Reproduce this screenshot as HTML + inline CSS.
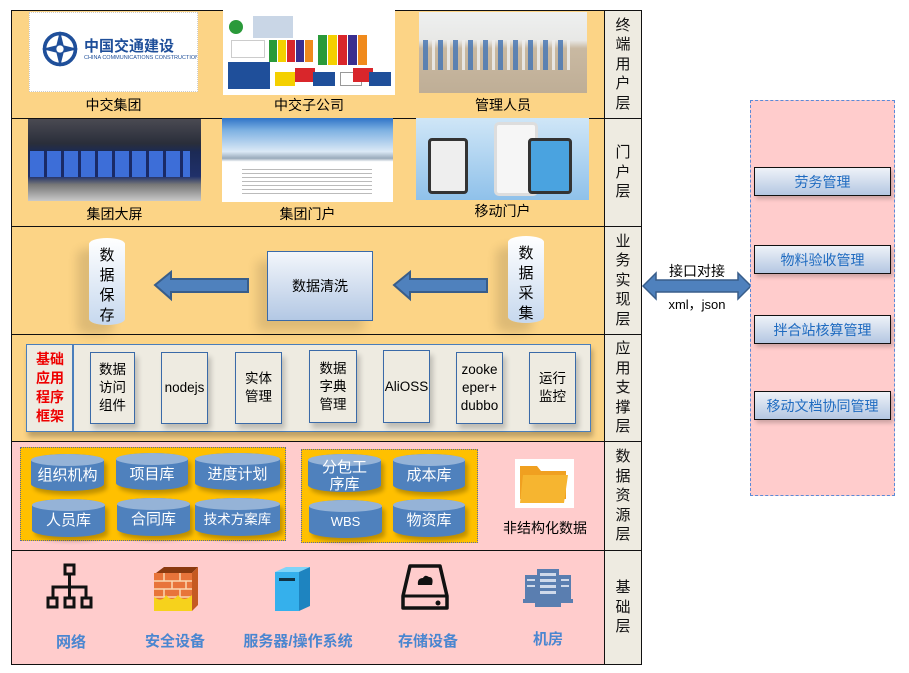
<!DOCTYPE html>
<html><head><meta charset="utf-8"><style>
*{margin:0;padding:0;box-sizing:border-box}
body{width:909px;height:673px;background:#fff;position:relative;overflow:hidden;font-family:"Liberation Sans","Noto Sans CJK SC",sans-serif}
.a{position:absolute}
.row{position:absolute;left:11px;width:594px;border:1.5px solid #111}
.lab{position:absolute;left:604px;width:38px;background:#eeebe1;border:1.5px solid #111;display:flex;align-items:center;justify-content:center;font-size:15px;line-height:19.5px;text-align:center;color:#111}
.cap{position:absolute;font-size:14px;color:#000;text-align:center}
.box{position:absolute;background:#eeebe1;border:1px solid #3a6aa8;font-size:13.5px;display:flex;align-items:center;justify-content:center;text-align:center;line-height:18px;box-shadow:3px 5px 5px rgba(0,0,0,.2)}
.cyl{position:absolute;background:#4f81bd;border-radius:50%/7px;color:#fff;font-size:15px;display:flex;align-items:center;justify-content:center;text-align:center;line-height:18px;box-shadow:3px 4px 4px rgba(0,0,0,.25)}
.cyl::before{content:"";position:absolute;left:0;top:0;right:0;height:12px;border-radius:50%;background:#95b3d7}
.cyl span{position:relative;padding-top:6px}
.bl{position:absolute;font-size:15px;font-weight:bold;color:#4a86d0;text-align:center}
.rb{position:absolute;left:754px;width:137px;height:29px;border:1.5px solid #111;background:linear-gradient(#eef2f8,#b4c7e2);color:#1f6bc0;font-size:14px;display:flex;align-items:center;justify-content:center;box-shadow:2px 3px 4px rgba(0,0,0,.2)}
</style></head><body>

<div class="row" style="top:10px;height:109px;background:#fcd486"></div>
<div class="row" style="top:118px;height:109px;background:#fcd486"></div>
<div class="row" style="top:226px;height:109px;background:#fcd486"></div>
<div class="row" style="top:334px;height:108px;background:#fcd486"></div>
<div class="row" style="top:441px;height:110px;background:#ffcccc"></div>
<div class="row" style="top:550px;height:115px;background:#ffcccc"></div>

<div class="lab" style="top:10px;height:109px">终<br>端<br>用<br>户<br>层</div>
<div class="lab" style="top:118px;height:109px">门<br>户<br>层</div>
<div class="lab" style="top:226px;height:109px">业<br>务<br>实<br>现<br>层</div>
<div class="lab" style="top:334px;height:108px">应<br>用<br>支<br>撑<br>层</div>
<div class="lab" style="top:441px;height:110px">数<br>据<br>资<br>源<br>层</div>
<div class="lab" style="top:550px;height:115px">基<br>础<br>层</div>

<div class="a" style="left:29px;top:12px;width:169px;height:80px;background:#fff;border:1px dotted #ccc;overflow:hidden">
 <svg class="a" style="left:10px;top:16px" width="40" height="40" viewBox="0 0 44 44"><circle cx="22" cy="22" r="17" fill="none" stroke="#1f4f9a" stroke-width="4"/><path d="M22 2L26 18L42 22L26 26L22 42L18 26L2 22L18 18Z" fill="#1f4f9a"/><circle cx="22" cy="22" r="4" fill="#fff"/></svg>
 <div class="a" style="left:54px;top:22px;font-size:15px;font-weight:bold;color:#1f4f9a;white-space:nowrap">中国交通建设</div>
 <div class="a" style="left:54px;top:42px;font-size:5.5px;color:#1f4f9a;white-space:nowrap">CHINA COMMUNICATIONS CONSTRUCTION</div>
</div>
<div class="a" style="left:223px;top:10px;width:172px;height:85px;background:#fff">
 <div class="a" style="left:6px;top:10px;width:14px;height:14px;border-radius:50%;background:#2a9a3a"></div>
 <div class="a" style="left:30px;top:6px;width:40px;height:22px;background:#c9d6e6"></div>
 <div class="a" style="left:8px;top:30px;width:34px;height:18px;border:1px solid #ccc"></div>
 <div class="a" style="left:5px;top:52px;width:42px;height:27px;background:#1f4f9a"></div>
 <div class="a" style="left:46px;top:30px;width:8px;height:22px;background:#2a9a3a"></div>
 <div class="a" style="left:55px;top:30px;width:8px;height:22px;background:#f4d000"></div>
 <div class="a" style="left:64px;top:30px;width:8px;height:22px;background:#d9262b"></div>
 <div class="a" style="left:73px;top:30px;width:8px;height:22px;background:#3b2f8f"></div>
 <div class="a" style="left:82px;top:30px;width:8px;height:22px;background:#f08a1c"></div>
 <div class="a" style="left:95px;top:25px;width:9px;height:30px;background:#2a9a3a"></div>
 <div class="a" style="left:105px;top:25px;width:9px;height:30px;background:#f4d000"></div>
 <div class="a" style="left:115px;top:25px;width:9px;height:30px;background:#d9262b"></div>
 <div class="a" style="left:125px;top:25px;width:9px;height:30px;background:#3b2f8f"></div>
 <div class="a" style="left:135px;top:25px;width:9px;height:30px;background:#f08a1c"></div>
 <div class="a" style="left:52px;top:62px;width:20px;height:14px;background:#f4d000"></div>
 <div class="a" style="left:72px;top:58px;width:20px;height:14px;background:#d9262b"></div>
 <div class="a" style="left:90px;top:62px;width:22px;height:14px;background:#1f4f9a"></div>
 <div class="a" style="left:117px;top:62px;width:22px;height:14px;background:#fff;border:1px solid #999"></div>
 <div class="a" style="left:130px;top:58px;width:20px;height:14px;background:#d9262b"></div>
 <div class="a" style="left:146px;top:62px;width:22px;height:14px;background:#1f4f9a"></div>
</div>
<div class="a" style="left:419px;top:12px;width:168px;height:81px;background:linear-gradient(#eef0f0 0,#e8e8e6 35%,#c9b9a2 45%,#bfae96 100%)">
 <div class="a" style="left:4px;top:28px;width:150px;height:30px;background:repeating-linear-gradient(90deg,#4a78b4 0 5px,transparent 5px 9px,#eee 9px 12px,transparent 12px 15px);opacity:.85"></div>
</div>
<div class="cap" style="left:29px;top:95px;width:169px">中交集团</div>
<div class="cap" style="left:223px;top:95px;width:172px">中交子公司</div>
<div class="cap" style="left:419px;top:95px;width:168px">管理人员</div>

<div class="a" style="left:28px;top:119px;width:173px;height:82px;background:linear-gradient(#4a4a52 0,#2a2e3a 30%,#1b2a55 40%,#20306a 70%,#777 80%,#c8c8c8 100%)">
 <div class="a" style="left:2px;top:32px;width:160px;height:26px;background:repeating-linear-gradient(90deg,#3d6ed8 0 14px,#1a2a66 14px 17px)"></div>
</div>
<div class="a" style="left:222px;top:118px;width:171px;height:84px;background:linear-gradient(#2f73c8 0,#7fb2e2 15%,#dbe9f6 40%,#9ab 48%,#fff 52%,#fff 100%)">
 <div class="a" style="left:20px;top:48px;width:130px;height:30px;background:repeating-linear-gradient(#fff 0 3px,#bbb 3px 4px)"></div>
</div>
<div class="a" style="left:416px;top:118px;width:173px;height:82px;background:linear-gradient(#cfe6f7,#8fc1ea)">
 <div class="a" style="left:12px;top:20px;width:40px;height:56px;background:#eee;border:3px solid #333;border-radius:4px"></div>
 <div class="a" style="left:78px;top:4px;width:44px;height:74px;background:#f6f6f6;border:3px solid #ddd;border-radius:5px"></div>
 <div class="a" style="left:112px;top:20px;width:44px;height:56px;background:#4aa3e0;border:3px solid #333;border-radius:4px"></div>
</div>
<div class="cap" style="left:28px;top:204px;width:173px">集团大屏</div>
<div class="cap" style="left:222px;top:204px;width:171px">集团门户</div>
<div class="cap" style="left:416px;top:201px;width:173px">移动门户</div>

<div class="a" style="left:89px;top:238px;width:36px;height:87px;border-radius:50%/6px;background:linear-gradient(#fff,#c6d8ee);box-shadow:-12px 10px 10px rgba(0,0,0,.12);font-size:15px;line-height:20px;text-align:center;padding-top:8px">数<br>据<br>保<br>存</div>
<div class="a" style="left:508px;top:236px;width:36px;height:87px;border-radius:50%/6px;background:linear-gradient(#fff,#c6d8ee);box-shadow:-12px 10px 10px rgba(0,0,0,.12);font-size:15px;line-height:20px;text-align:center;padding-top:8px">数<br>据<br>采<br>集</div>
<div class="a" style="left:267px;top:251px;width:106px;height:70px;border:1px solid #3a6aa8;background:linear-gradient(#f3f6fb,#b3c8e4);display:flex;align-items:center;justify-content:center;font-size:14px;box-shadow:-10px 10px 10px rgba(0,0,0,.12)">数据清洗</div>
<svg class="a" style="left:150px;top:270px" width="350" height="32">
 <path d="M5 15L21 2V9H98V22H21V29Z" fill="#4f81bd" stroke="#385d8a" stroke-width="2"/>
 <path d="M244 15L260 2V9H337V22H260V29Z" fill="#4f81bd" stroke="#385d8a" stroke-width="2"/>
</svg>

<div class="a" style="left:26px;top:344px;width:565px;height:88px;border:1.5px solid #4a7ebb;background:#eeebe1;box-shadow:2px 5px 5px rgba(0,0,0,.25)"></div>
<div class="a" style="left:72px;top:345px;width:1.5px;height:86px;background:#4a7ebb"></div>
<div class="a" style="left:30px;top:350px;width:40px;font-size:14px;font-weight:bold;color:#e00;line-height:19px;text-align:center">基础<br>应用<br>程序<br>框架</div>
<div class="box" style="left:90px;top:352px;width:45px;height:72px">数据<br>访问<br>组件</div>
<div class="box" style="left:161px;top:352px;width:47px;height:72px">nodejs</div>
<div class="box" style="left:235px;top:352px;width:47px;height:72px">实体<br>管理</div>
<div class="box" style="left:309px;top:350px;width:48px;height:73px">数据<br>字典<br>管理</div>
<div class="box" style="left:383px;top:350px;width:47px;height:73px">AliOSS</div>
<div class="box" style="left:456px;top:352px;width:47px;height:72px">zooke<br>eper+<br>dubbo</div>
<div class="box" style="left:529px;top:352px;width:47px;height:72px">运行<br>监控</div>

<div class="a" style="left:20px;top:447px;width:266px;height:94px;background:#ffc000;border:1px dotted #5a6aa0"></div>
<div class="a" style="left:301px;top:449px;width:177px;height:94px;background:#ffc000;border:1px dotted #5a6aa0"></div>
<div class="cyl" style="left:31px;top:454px;width:73px;height:37px"><span>组织机构</span></div>
<div class="cyl" style="left:116px;top:453px;width:72px;height:37px"><span>项目库</span></div>
<div class="cyl" style="left:195px;top:453px;width:85px;height:37px"><span>进度计划</span></div>
<div class="cyl" style="left:32px;top:499px;width:73px;height:38px"><span>人员库</span></div>
<div class="cyl" style="left:117px;top:498px;width:73px;height:38px"><span>合同库</span></div>
<div class="cyl" style="left:195px;top:498px;width:85px;height:38px"><span style="font-size:13.5px">技术方案库</span></div>
<div class="cyl" style="left:308px;top:454px;width:73px;height:38px"><span style="line-height:17px">分包工<br>序库</span></div>
<div class="cyl" style="left:393px;top:454px;width:72px;height:38px"><span>成本库</span></div>
<div class="cyl" style="left:309px;top:500px;width:73px;height:38px"><span style="font-size:13px">WBS</span></div>
<div class="cyl" style="left:393px;top:499px;width:72px;height:38px"><span>物资库</span></div>
<div class="a" style="left:515px;top:459px;width:59px;height:49px;background:#fff">
 <svg width="59" height="49"><path d="M5 7H22L26 12H51V40H5Z" fill="#f0a020"/><path d="M8 16H53L49 44H5Z" fill="#f6b530"/></svg>
</div>
<div class="cap" style="left:495px;top:518px;width:100px">非结构化数据</div>

<svg class="a" style="left:45px;top:563px" width="52" height="50"><g fill="none" stroke="#111" stroke-width="3"><rect x="20" y="2" width="9" height="9"/><path d="M24.5 11V35M8 35V24H41V35M24.5 24"/><rect x="3" y="35" width="9" height="9"/><rect x="20" y="35" width="9" height="9"/><rect x="37" y="35" width="9" height="9"/></g></svg>
<svg class="a" style="left:152px;top:565px" width="48" height="48"><path d="M4 8L12 2H46L40 8Z" fill="#8a3a10"/><rect x="2" y="8" width="38" height="38" fill="#e8743a"/><g stroke="#fbd7b0" stroke-width="1.5"><path d="M2 16H40M2 24H40M2 32H40M2 40H40M12 8V16M28 8V16M20 16V24M34 16V24M12 24V32M28 24V32"/></g><path d="M2 46V32Q10 38 14 30Q20 38 26 30Q32 38 40 30V46Z" fill="#f6d21c"/><path d="M40 8L46 2V40L40 46Z" fill="#c55a22"/></svg>
<svg class="a" style="left:272px;top:566px" width="40" height="46"><path d="M3 6L14 1H38L27 6Z" fill="#7fd4f8"/><rect x="3" y="6" width="24" height="39" fill="#35b0ec"/><path d="M27 6L38 1V40L27 45Z" fill="#1e84c0"/><rect x="7" y="12" width="16" height="3" fill="#134"/></svg>
<svg class="a" style="left:400px;top:563px" width="50" height="50"><path d="M10 3H40L47 33V45H3V33Z" fill="none" stroke="#111" stroke-width="3.5" stroke-linejoin="round"/><path d="M3 33H47" stroke="#111" stroke-width="3"/><circle cx="38" cy="40" r="2.5" fill="#111"/><path d="M18 22Q17 15 23 15Q25 11 29 14Q34 14 32 22Z" fill="#111"/></svg>
<svg class="a" style="left:523px;top:567px" width="50" height="42"><g fill="#5a7eb0"><rect x="14" y="2" width="22" height="34"/><rect x="2" y="8" width="12" height="26"/><rect x="36" y="8" width="12" height="26"/><rect x="12" y="34" width="26" height="6"/><rect x="0" y="32" width="12" height="4"/><rect x="38" y="32" width="12" height="4"/></g><g fill="#cfd9ea"><rect x="17" y="6" width="16" height="3"/><rect x="17" y="12" width="16" height="3"/><rect x="17" y="18" width="16" height="3"/><rect x="17" y="24" width="16" height="3"/><rect x="4" y="12" width="8" height="2"/><rect x="4" y="18" width="8" height="2"/><rect x="38" y="12" width="8" height="2"/><rect x="38" y="18" width="8" height="2"/></g></svg>
<div class="bl" style="left:31px;top:631px;width:80px">网络</div>
<div class="bl" style="left:125px;top:630px;width:100px">安全设备</div>
<div class="bl" style="left:228px;top:630px;width:140px">服务器/操作系统</div>
<div class="bl" style="left:378px;top:630px;width:100px">存储设备</div>
<div class="bl" style="left:508px;top:628px;width:80px">机房</div>

<div class="a" style="left:642px;top:261px;width:110px;text-align:center;font-size:14px">接口对接</div>
<svg class="a" style="left:641px;top:271px" width="112" height="30"><path d="M2 15L15 2V9H97V2L110 15L97 28V21H15V28Z" fill="#4f81bd" stroke="#385d8a" stroke-width="1.5"/></svg>
<div class="a" style="left:642px;top:294px;width:110px;text-align:center;font-size:13px">xml，json</div>

<div class="a" style="left:750px;top:100px;width:145px;height:396px;background:#ffcccc;border:1.5px dashed #5a8ad8"></div>
<div class="rb" style="top:167px">劳务管理</div>
<div class="rb" style="top:245px">物料验收管理</div>
<div class="rb" style="top:315px">拌合站核算管理</div>
<div class="rb" style="top:391px">移动文档协同管理</div>
</body></html>
